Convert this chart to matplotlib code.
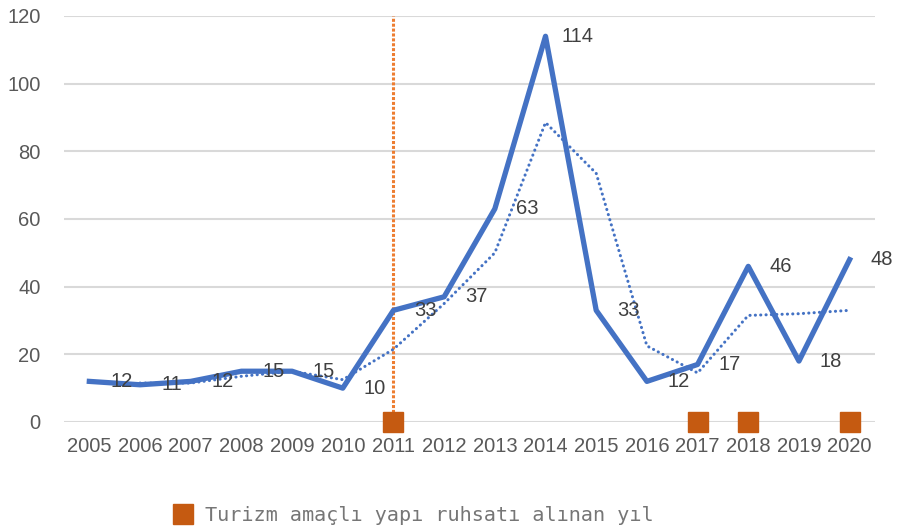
import matplotlib.pyplot as plt
from matplotlib.lines import Line2D

# values
years = [2005, 2006, 2007, 2008, 2009, 2010, 2011, 2012,
         2013, 2014, 2015, 2016, 2017, 2018, 2019, 2020]
counts = [12, 11, 12, 15, 15, 10, 33, 37, 63, 114, 33, 12, 17, 46, 18, 48]
# dotted trend (2-period moving average as drawn)
trend_years = years[1:]
trend = [11.5, 11.5, 13.5, 15, 12.5, 21.5, 35, 50, 88.5, 73.5, 22.5, 14.5, 31.5, 32, 33]
permit_years = [2011, 2017, 2018, 2020]
permit_vals = [0, 0, 0, 0]
marker_year = 2011
legend_label = 'Turizm amaçlı yapı ruhsatı alınan yıl'

blue = '#4472C4'
orange = '#ED7D31'
dark_orange = '#C55A11'
txt = '#595959'

plt.rcParams['font.family'] = ['Liberation Sans', 'DejaVu Sans']

fig = plt.figure(figsize=(9, 5.29), dpi=100)
ax = fig.add_axes([0.0711, 0.2023, 0.9011, 0.7675])

pos = {y: i for i, y in enumerate(years)}
x = [pos[y] for y in years]
xt = [pos[y] for y in trend_years]

ax.plot(x, counts, color=blue, lw=3.8, solid_joinstyle='round', zorder=3)
ax.plot(xt, trend, color=blue, lw=2.2, ls=(0, (0.05, 1.7)),
        dash_capstyle='round', zorder=2)

ax.axvline(pos[marker_year], ymin=-0.025, ymax=1, color=orange, lw=2.2,
           ls=(0, (1, 0.6)), clip_on=False, zorder=1)

ax.plot([pos[y] for y in permit_years], permit_vals, ls='', marker='s',
        markersize=15, color=dark_orange, clip_on=False, zorder=4)

for xi, v in zip(x, counts):
    ax.annotate(str(v), (xi, v), xytext=(32, 0), textcoords='offset pixels',
                ha='center', va='center', fontsize=14.5, color='#404040', zorder=5)

ax.set_xlim(-0.5, len(years) - 0.5)
ax.set_ylim(0, 120)
ax.set_yticks(range(0, 121, 20))
ax.set_xticks(x)
ax.set_xticklabels([str(y) for y in years])
ax.tick_params(length=0, labelsize=14.5, labelcolor=txt)
ax.tick_params(axis='x', pad=11)
ax.tick_params(axis='y', pad=17)
ax.grid(axis='y', color='#D9D9D9', lw=1.5)
ax.set_axisbelow(True)
for s in ax.spines.values():
    s.set_visible(False)

handle = Line2D([], [], ls='', marker='s', markersize=15, color=dark_orange)
fig.legend(handles=[handle], labels=[legend_label], loc='center',
           bbox_to_anchor=(0.459, 0.026), frameon=False,
           prop={'family': 'DejaVu Sans Mono', 'size': 14.5},
           labelcolor='#767676', handletextpad=0.6, handlelength=1)

fig.savefig('out.png', dpi=100)
